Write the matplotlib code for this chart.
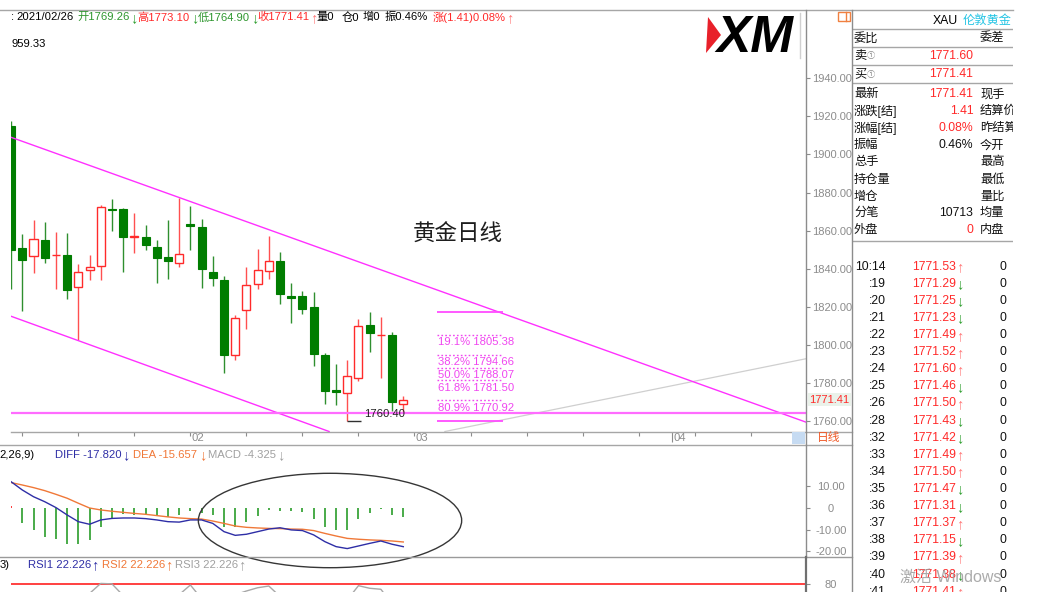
import numpy as np
import matplotlib
matplotlib.use("Agg")
import matplotlib.pyplot as plt
import matplotlib.transforms as mtransforms
from matplotlib.patches import Rectangle, Ellipse, Polygon
from matplotlib.lines import Line2D

plt.rcParams["font.family"] = ["Liberation Sans", "Noto Sans CJK SC", "DejaVu Sans"]
plt.rcParams["font.size"] = 8

# ---------------- daily XAU candles, 2021-01-08 .. 2021-02-26 ----------------
opens = [1914.8, 1850.9, 1846.6, 1855.3, 1847.0, 1847.1, 1830.5, 1839.6, 1841.5, 1871.6,
         1871.4, 1856.9, 1856.7, 1851.3, 1846.0, 1843.2, 1863.7, 1861.9, 1838.5, 1834.0,
         1794.8, 1818.6, 1832.0, 1839.0, 1844.3, 1825.9, 1825.9, 1819.8, 1795.0, 1776.3,
         1775.0, 1782.6, 1810.4, 1805.3, 1805.5, 1769.26]
highs = [1917.6, 1858.5, 1865.5, 1864.4, 1859.2, 1858.6, 1842.4, 1847.3, 1873.3, 1876.5,
         1872.1, 1869.5, 1863.2, 1855.0, 1865.6, 1877.2, 1873.0, 1866.0, 1846.6, 1836.2,
         1816.0, 1840.8, 1850.2, 1857.1, 1848.8, 1832.4, 1828.6, 1828.0, 1795.6, 1789.9,
         1792.0, 1813.9, 1817.5, 1814.9, 1806.9, 1773.10]
lows = [1829.6, 1817.9, 1838.0, 1843.2, 1829.4, 1824.0, 1802.5, 1834.1, 1834.0, 1859.9,
        1838.3, 1848.3, 1849.9, 1832.6, 1834.9, 1841.0, 1849.7, 1830.1, 1831.2, 1785.4,
        1792.4, 1808.3, 1829.4, 1834.7, 1821.7, 1811.6, 1816.5, 1789.0, 1769.1, 1768.4,
        1760.40, 1781.0, 1796.4, 1782.9, 1765.4, 1764.90]
closes = [1849.7, 1844.8, 1855.8, 1845.9, 1847.5, 1829.1, 1838.5, 1841.2, 1872.6, 1871.1,
          1856.5, 1857.1, 1852.5, 1845.5, 1844.3, 1848.0, 1862.3, 1839.7, 1835.4, 1794.6,
          1814.0, 1831.7, 1839.6, 1844.3, 1826.8, 1824.7, 1818.9, 1795.2, 1775.9, 1775.6,
          1783.8, 1810.0, 1806.5, 1805.5, 1770.1, 1771.41]

# ---------------- MACD(12,26,9) ----------------
diff = [12.1, 8.3, 5.2, 2.9, 0.2, -3.2, -6.3, -7.5, -5.5, -4.8,
        -4.6, -4.6, -4.9, -5.5, -6.3, -6.5, -5.5, -5.5, -7.1, -10.9,
        -12.6, -12.1, -10.9, -9.7, -9.1, -10.1, -10.4, -12.4, -15.5, -17.8,
        -18.7, -17.5, -16.3, -15.2, -16.7, -17.82]
dea = [11.7, 10.6, 9.4, 8.0, 6.3, 4.5, 2.2, 0.0, -0.9, -1.5,
       -2.0, -2.5, -2.9, -3.5, -4.1, -4.6, -4.9, -5.1, -6.0, -7.1,
       -8.3, -8.9, -9.2, -9.4, -9.5, -9.7, -9.8, -10.4, -11.7, -12.9,
       -14.0, -14.4, -14.7, -14.9, -15.2, -15.657]
macd_hist = [0.9, -7.1, -10.1, -13.5, -14.4, -16.7, -16.6, -14.7, -8.9, -4.8,
             -2.8, -3.4, -3.2, -3.7, -4.0, -3.4, -1.2, -2.5, -3.2, -8.6,
             -8.9, -6.5, -3.5, -0.8, -1.2, -1.2, -1.7, -4.9, -8.9, -10.1,
             -10.1, -5.2, -2.2, -0.6, -3.2, -4.325]

# ---------------- RSI (only the part above ~62 is in view) ----------------
nan = np.nan
rsi = [nan, nan, nan, nan, nan, nan, nan, 58.8, 82.0, 81.0,
       54.0, nan, nan, nan, nan, 56.0, 78.4, 46.5, nan, nan,
       55.8, 64.5, 72.0, 76.0, 51.8, nan, nan, nan, nan, nan,
       44.0, 76.8, 70.8, 68.5, 34.5, 22.226]

# ---------------- axes / annotations ----------------
price_ticks = [1760, 1780, 1800, 1820, 1840, 1860, 1880, 1900, 1920, 1940]
macd_ticks = [10, 0, -10, -20]
macd_tick_labels = ["10.00", "0", "-10.00", "-20.00"]
week_ticks = list(range(1, 71, 5))
month_ticks = [16, 36, 59]
month_labels = ["02", "03", "04"]

fib_pcts = ["19.1%", "38.2%", "50.0%", "61.8%", "80.9%"]
fib_levels = [1805.38, 1794.66, 1788.07, 1781.50, 1770.92]
fib_high, fib_low = 1817.2, 1760.2
fib_span = (38.0, 43.9)

swing_low_idx, swing_low = 30, 1760.40
support_level = 1764.4
upper_channel = [(0, 1909.0), (15, 1877.4)]
lower_channel = [(0, 1815.1), (10, 1793.8)]
gray_trend = [(38.5, 1754.4), (71.0, 1792.9)]
last_price = 1771.41

# ---------------- quote panel ----------------
quote_rows = ["委比", "卖", "买", "最新", "涨跌[结]", "涨幅[结]", "振幅", "总手",
              "持仓量", "增仓", "分笔", "外盘"]
quote_vals = ["", "1771.60", "1771.41", "1771.41", "1.41", "0.08%", "0.46%", "",
              "", "", "10713", "0"]
quote_val_colors = ["k", "r", "r", "r", "r", "r", "k", "k", "k", "k", "k", "r"]
quote_right = ["委差", "", "", "现手", "结算价", "昨结算", "今开", "最高",
               "最低", "量比", "均量", "内盘"]
quote_y = [38.3, 55.7, 74.0, 94.3, 111.0, 128.0, 145.3, 162.3, 180.0, 196.7, 213.3, 230.0]

tick_times = ["10:14", ":19", ":20", ":21", ":22", ":23", ":24", ":25", ":26", ":28",
              ":32", ":33", ":34", ":35", ":36", ":37", ":38", ":39", ":40", ":41"]
tick_prices = ["1771.53", "1771.29", "1771.25", "1771.23", "1771.49", "1771.52", "1771.60",
               "1771.46", "1771.50", "1771.43", "1771.42", "1771.49", "1771.50", "1771.47",
               "1771.31", "1771.37", "1771.15", "1771.39", "1771.38", "1771.41"]
tick_dirs = ["↑", "↓", "↓", "↓", "↑", "↑", "↑", "↓", "↑", "↓",
             "↓", "↑", "↑", "↓", "↓", "↑", "↓", "↑", "↓", "↑"]
tick_vols = ["0"] * 20

# ---------------- colours ----------------
RED = "#ff2a2a"
RED_WICK = "#ff5050"
GREEN = "#007d00"
GREEN_WICK = "#2f8f2f"
HIST_GREEN = "#3aa53a"
MAGENTA = "#ff30ff"
FIB = "#f046f0"
BLUE = "#2e2ea6"
ORANGE = "#f07838"
GRAY_TXT = "#8c8c8c"
LINE = "#a6a6a6"
UP_ARROW = "#ff7878"
DN_ARROW = "#2e9e2e"
HDR_GREEN = "#2e962e"
ARROW_FONT = dict(family=["Liberation Sans"], fontsize=10.5)

W, H = 1043, 612
fig = plt.figure(figsize=(W / 100, H / 100), dpi=100)
fig.patch.set_facecolor("white")


def px_axes(x0, y0, x1, y1):
    a = fig.add_axes([x0 / W, 1 - y1 / H, (x1 - x0) / W, (y1 - y0) / H])
    for s in a.spines.values():
        s.set_visible(False)
    a.set_facecolor("none")
    return a


def ftxt(x, y, s, color="k", size=8.1, ha="left", va="center", **kw):
    return fig.text(x / W, 1 - y / H, s, color=color, fontsize=size, ha=ha, va=va, **kw)


def farrow(x, y, s, color):
    return fig.text(x / W, 1 - y / H, s, color=color, ha="left", va="center", **ARROW_FONT)


def fline(x0, y0, x1, y1, color=LINE, lw=1.0, z=1):
    fig.add_artist(Line2D([x0 / W, x1 / W], [1 - y0 / H, 1 - y1 / H],
                          color=color, lw=lw, zorder=z, transform=fig.transFigure))


XLIM = (-0.054, 70.94)
idx = np.arange(len(opens))
o, hi, lo, c = map(np.asarray, (opens, highs, lows, closes))
up = c >= o

# ======================= price chart =======================
ax = px_axes(10.5, 10, 806, 431.5)
ax.set_xlim(*XLIM)
ax.set_ylim(1754.65, 1975.79)

ax.vlines(idx[~up], lo[~up], hi[~up], color=GREEN_WICK, lw=1.0, zorder=2)
ax.bar(idx[~up], o[~up] - c[~up], bottom=c[~up], width=0.72,
       color=GREEN, edgecolor=GREEN, lw=0.8, zorder=3)
ax.vlines(idx[up], lo[up], hi[up], color=RED_WICK, lw=1.0, zorder=2)
ax.bar(idx[up], c[up] - o[up], bottom=o[up], width=0.72,
       facecolor="white", edgecolor=RED, lw=1.0, zorder=3)

# channel, support and trend lines
ax.axline(upper_channel[0], upper_channel[1], color=MAGENTA, lw=1.0, zorder=4)
ax.axline(lower_channel[0], lower_channel[1], color=MAGENTA, lw=1.0, zorder=4)
ax.axline(gray_trend[0], gray_trend[1], color="#cfcfcf", lw=0.9, zorder=1)
ax.axhline(support_level, color="#ff6cff", lw=1.6, zorder=4)

# Fibonacci retracement
ax.hlines([fib_high, fib_low], *fib_span, color="#ff4cff", lw=1.3, zorder=4)
ax.hlines(fib_levels, *fib_span, color=FIB, lw=1.0, linestyles=(0, (1.2, 1.6)), zorder=4)
for pct, lvl in zip(fib_pcts, fib_levels):
    ax.text(fib_span[0] + 0.1, lvl - 3.8, f"{pct} {lvl:.2f}", color=FIB,
            fontsize=8.1, ha="left", va="center", zorder=5)

# swing-low marker
ax.hlines(swing_low, swing_low_idx, swing_low_idx + 1.25, color="#303030", lw=1.0, zorder=5)
ax.text(swing_low_idx + 1.5, swing_low + 3.5, f"{swing_low:.2f}", color="#222222",
        fontsize=8.1, ha="left", va="center", zorder=5)

# price axis on the right
ax.yaxis.tick_right()
ax.set_yticks(price_ticks)
ax.set_yticklabels([f"{v:.2f}" for v in price_ticks])
ax.tick_params(axis="y", direction="out", length=3, width=0.8, color=GRAY_TXT,
               labelcolor=GRAY_TXT, labelsize=8, pad=1.5)
ax.set_xticks(week_ticks)
ax.set_xticks(month_ticks, minor=True)
ax.tick_params(axis="x", which="major", direction="out", length=3, width=0.8,
               color=GRAY_TXT, labelbottom=False)
ax.tick_params(axis="x", which="minor", direction="out", length=7.5, width=0.8,
               color=GRAY_TXT, labelbottom=False)
xb = mtransforms.blended_transform_factory(ax.transData, ax.transAxes)
for m, lab in zip(month_ticks, month_labels):
    ax.text(m + 0.12, -6.3 / 421.5, lab, transform=xb, color=GRAY_TXT,
            fontsize=8.1, ha="left", va="center", clip_on=False)

yb = mtransforms.blended_transform_factory(ax.transAxes, ax.transData)
ax.text(1 + 3.3 / 795.5, last_price, f"{last_price:.2f}", transform=yb, color=RED,
        fontsize=8, ha="left", va="center", clip_on=False, zorder=6,
        bbox=dict(boxstyle="square,pad=0.12", facecolor="#eaf2ea", edgecolor="none"))

# ======================= MACD =======================
axm = px_axes(10.5, 445, 806, 557)
axm.set_xlim(*XLIM)
axm.set_ylim(-22.58, 29.03)
hist_colors = [RED if v > 0 else HIST_GREEN for v in macd_hist]
axm.vlines(idx, 0, macd_hist, colors=hist_colors, lw=1.3, zorder=2)
axm.plot(idx, dea, color=ORANGE, lw=1.0, zorder=3)
axm.plot(idx, diff, color=BLUE, lw=1.0, zorder=4)
axm.set_xticks([])
axm.yaxis.tick_right()
axm.set_yticks(macd_ticks)
axm.set_yticklabels(macd_tick_labels)
axm.tick_params(axis="y", direction="out", length=3, width=0.8, color=GRAY_TXT,
                labelcolor=GRAY_TXT, labelsize=8, pad=15)
plt.setp(axm.get_yticklabels(), ha="center")
axm.add_patch(Ellipse((28.46, -5.76), 23.5, 43.5, fill=False, edgecolor="#363636",
                      lw=1.0, clip_on=False, zorder=6))

# ======================= RSI =======================
axr = px_axes(10.5, 557, 806, 592)
axr.set_xlim(*XLIM)
axr.set_ylim(62.2, 143.0)
axr.axhline(80, color="#ff2020", lw=1.2, zorder=2)
axr.plot(idx, rsi, color="#a8a8a8", lw=1.0, zorder=3)
axr.set_xticks([])
axr.yaxis.tick_right()
axr.set_yticks([80])
axr.set_yticklabels(["80"])
axr.tick_params(axis="y", direction="out", length=3, width=0.8, color=GRAY_TXT,
                labelcolor=GRAY_TXT, labelsize=8, pad=15)
plt.setp(axr.get_yticklabels(), ha="center")

# ======================= frame lines =======================
fline(0, 10, 1013, 10)
fline(10.5, 431.5, 852, 431.5)
fline(0, 445, 852, 445)
fline(0, 557, 852, 557, color="#9a9a9a")
fline(806, 10, 806, 557, color="#8c8c8c")
fline(806, 557, 806, 592, color="#707070", lw=1.6)
fline(852, 10, 852, 592, color="#8c8c8c")
fline(800, 13, 800, 58, color="#d0d0d0")

# period selector
fig.add_artist(Rectangle((791.7 / W, 1 - 444 / H), 13.3 / W, 12.3 / H,
                         facecolor="#c6dbf2", edgecolor="none", transform=fig.transFigure))
ftxt(817, 438.5, "日线", color="#f05a28", size=8.5)

# window icon
fig.add_artist(Rectangle((838 / W, 1 - 20.5 / H), 12 / W, 8.5 / H, fill=False,
                         edgecolor="#f08040", lw=1.0, transform=fig.transFigure))
fline(846, 12, 846, 20.5, color="#f08040")

# logo
fig.add_artist(Polygon([(708 / W, 1 - 17 / H), (721 / W, 1 - 35 / H), (706 / W, 1 - 53 / H)],
                       closed=True, facecolor="#e8202a", edgecolor="none",
                       transform=fig.transFigure, zorder=2))
ftxt(716, 52, "XM", size=37, va="baseline", fontweight="heavy", fontstyle="italic",
     family="Liberation Sans", zorder=3)

# chart title
ftxt(413, 234, "黄金日线", color="#1e1e1e", size=16.2, family=["Noto Sans CJK SC"])

# ======================= header line =======================
header = [
    (11.0, ":", "k"), (16.0, "2021/02/26", "k"),
    (77.7, "开1769.26", HDR_GREEN), (137.3, "高1773.10", RED),
    (197.7, "低1764.90", HDR_GREEN), (257.7, "收1771.41", RED),
    (316.7, "量0", "k"), (341.7, "仓0", "k"), (363.0, "增0", "k"),
    (385.0, "振0.46%", "k"), (432.3, "涨(1.41)0.08%", RED),
]
for x, s, col in header:
    ftxt(x, 17.3, s, color=col)
header_arrows = [(129.8, "↓", DN_ARROW), (191.2, "↓", DN_ARROW), (251.0, "↓", DN_ARROW),
                 (310.5, "↑", UP_ARROW), (506.5, "↑", UP_ARROW)]
for x, s, col in header_arrows:
    farrow(x, 17.8, s, col)
ftxt(11.3, 44.3, "959.33", color="k")

# MACD / RSI captions
macd_caption = [(-0.5, "2,26,9)", "k"), (55.0, "DIFF -17.820", BLUE),
                (133.3, "DEA -15.657", ORANGE), (208.3, "MACD -4.325", "#a0a0a0")]
for x, s, col in macd_caption:
    ftxt(x, 455, s, color=col)
for x, col in ((121.8, BLUE), (198.8, ORANGE), (277.5, "#a0a0a0")):
    farrow(x, 455.5, "↓", col)
rsi_caption = [(-0.5, "3)", "k"), (28.3, "RSI1 22.226", BLUE),
               (101.7, "RSI2 22.226", ORANGE), (175.0, "RSI3 22.226", "#a0a0a0")]
for x, s, col in rsi_caption:
    ftxt(x, 565, s, color=col)
for x, col in ((91.2, BLUE), (164.6, ORANGE), (238.0, "#a0a0a0")):
    farrow(x, 565.5, "↑", col)

# ======================= quote panel =======================
axq = fig.add_axes([852 / W, 1 - 592 / H, (1013 - 852) / W, (592 - 10) / H])
axq.set_xlim(852, 1013)
axq.set_ylim(592, 10)
axq.set_xticks([])
axq.set_yticks([])
for s in axq.spines.values():
    s.set_visible(False)
axq.set_facecolor("white")

for yy in (29, 46.7, 65, 83.3, 240.7):
    axq.plot([852, 1013], [yy, yy], color=LINE, lw=1.0, clip_on=True)

QS = 8.8
axq.text(933, 20.7, "XAU", color="k", fontsize=QS, ha="left", va="center", clip_on=True)
axq.text(963, 20.7, "伦敦黄金", color="#22c4e4", fontsize=QS, ha="left", va="center",
         clip_on=True)
cmap = {"k": "#111111", "r": RED}
for lab, val, vc, rl, yy in zip(quote_rows, quote_vals, quote_val_colors, quote_right, quote_y):
    axq.text(854, yy, lab, color="#111111", fontsize=QS, ha="left", va="center",
             clip_on=True)
    if lab in ("卖", "买"):
        axq.text(867, yy + 0.5, "①", color="#8a8a8a", fontsize=6, ha="left", va="center",
                 clip_on=True)
    if val:
        axq.text(973.5, yy, val, color=cmap[vc], fontsize=QS, ha="right", va="center",
                 clip_on=True)
    if rl:
        axq.text(980, yy, rl, color="#111111", fontsize=QS, ha="left", va="center",
                 clip_on=True)

for k, (tm, pr, dr, vol) in enumerate(zip(tick_times, tick_prices, tick_dirs, tick_vols)):
    yy = 266.7 + k * 17.1
    if k == 0:
        axq.text(855, yy, tm, color="#111111", fontsize=QS, ha="left", va="center", clip_on=True)
    else:
        axq.text(885.5, yy, tm, color="#111111", fontsize=QS, ha="right", va="center",
                 clip_on=True)
    axq.text(956.5, yy, pr, color=RED, fontsize=QS, ha="right", va="center", clip_on=True)
    axq.text(956.0, yy + 0.6, dr, color=UP_ARROW if dr == "↑" else DN_ARROW,
             ha="left", va="center", clip_on=True, **ARROW_FONT)
    axq.text(1006.5, yy, vol, color="#111111", fontsize=QS, ha="right", va="center",
             clip_on=True)

# system watermark
ftxt(900, 577, "激活 Windows", color="#9c9c9c", size=11.5, alpha=0.85, zorder=8)

# blank strip under the captured window
fig.add_artist(Rectangle((0, 0), 1, 20 / H, facecolor="white", edgecolor="none",
                         transform=fig.transFigure, zorder=20))

fig.savefig("out.png", dpi=100, facecolor="white")
